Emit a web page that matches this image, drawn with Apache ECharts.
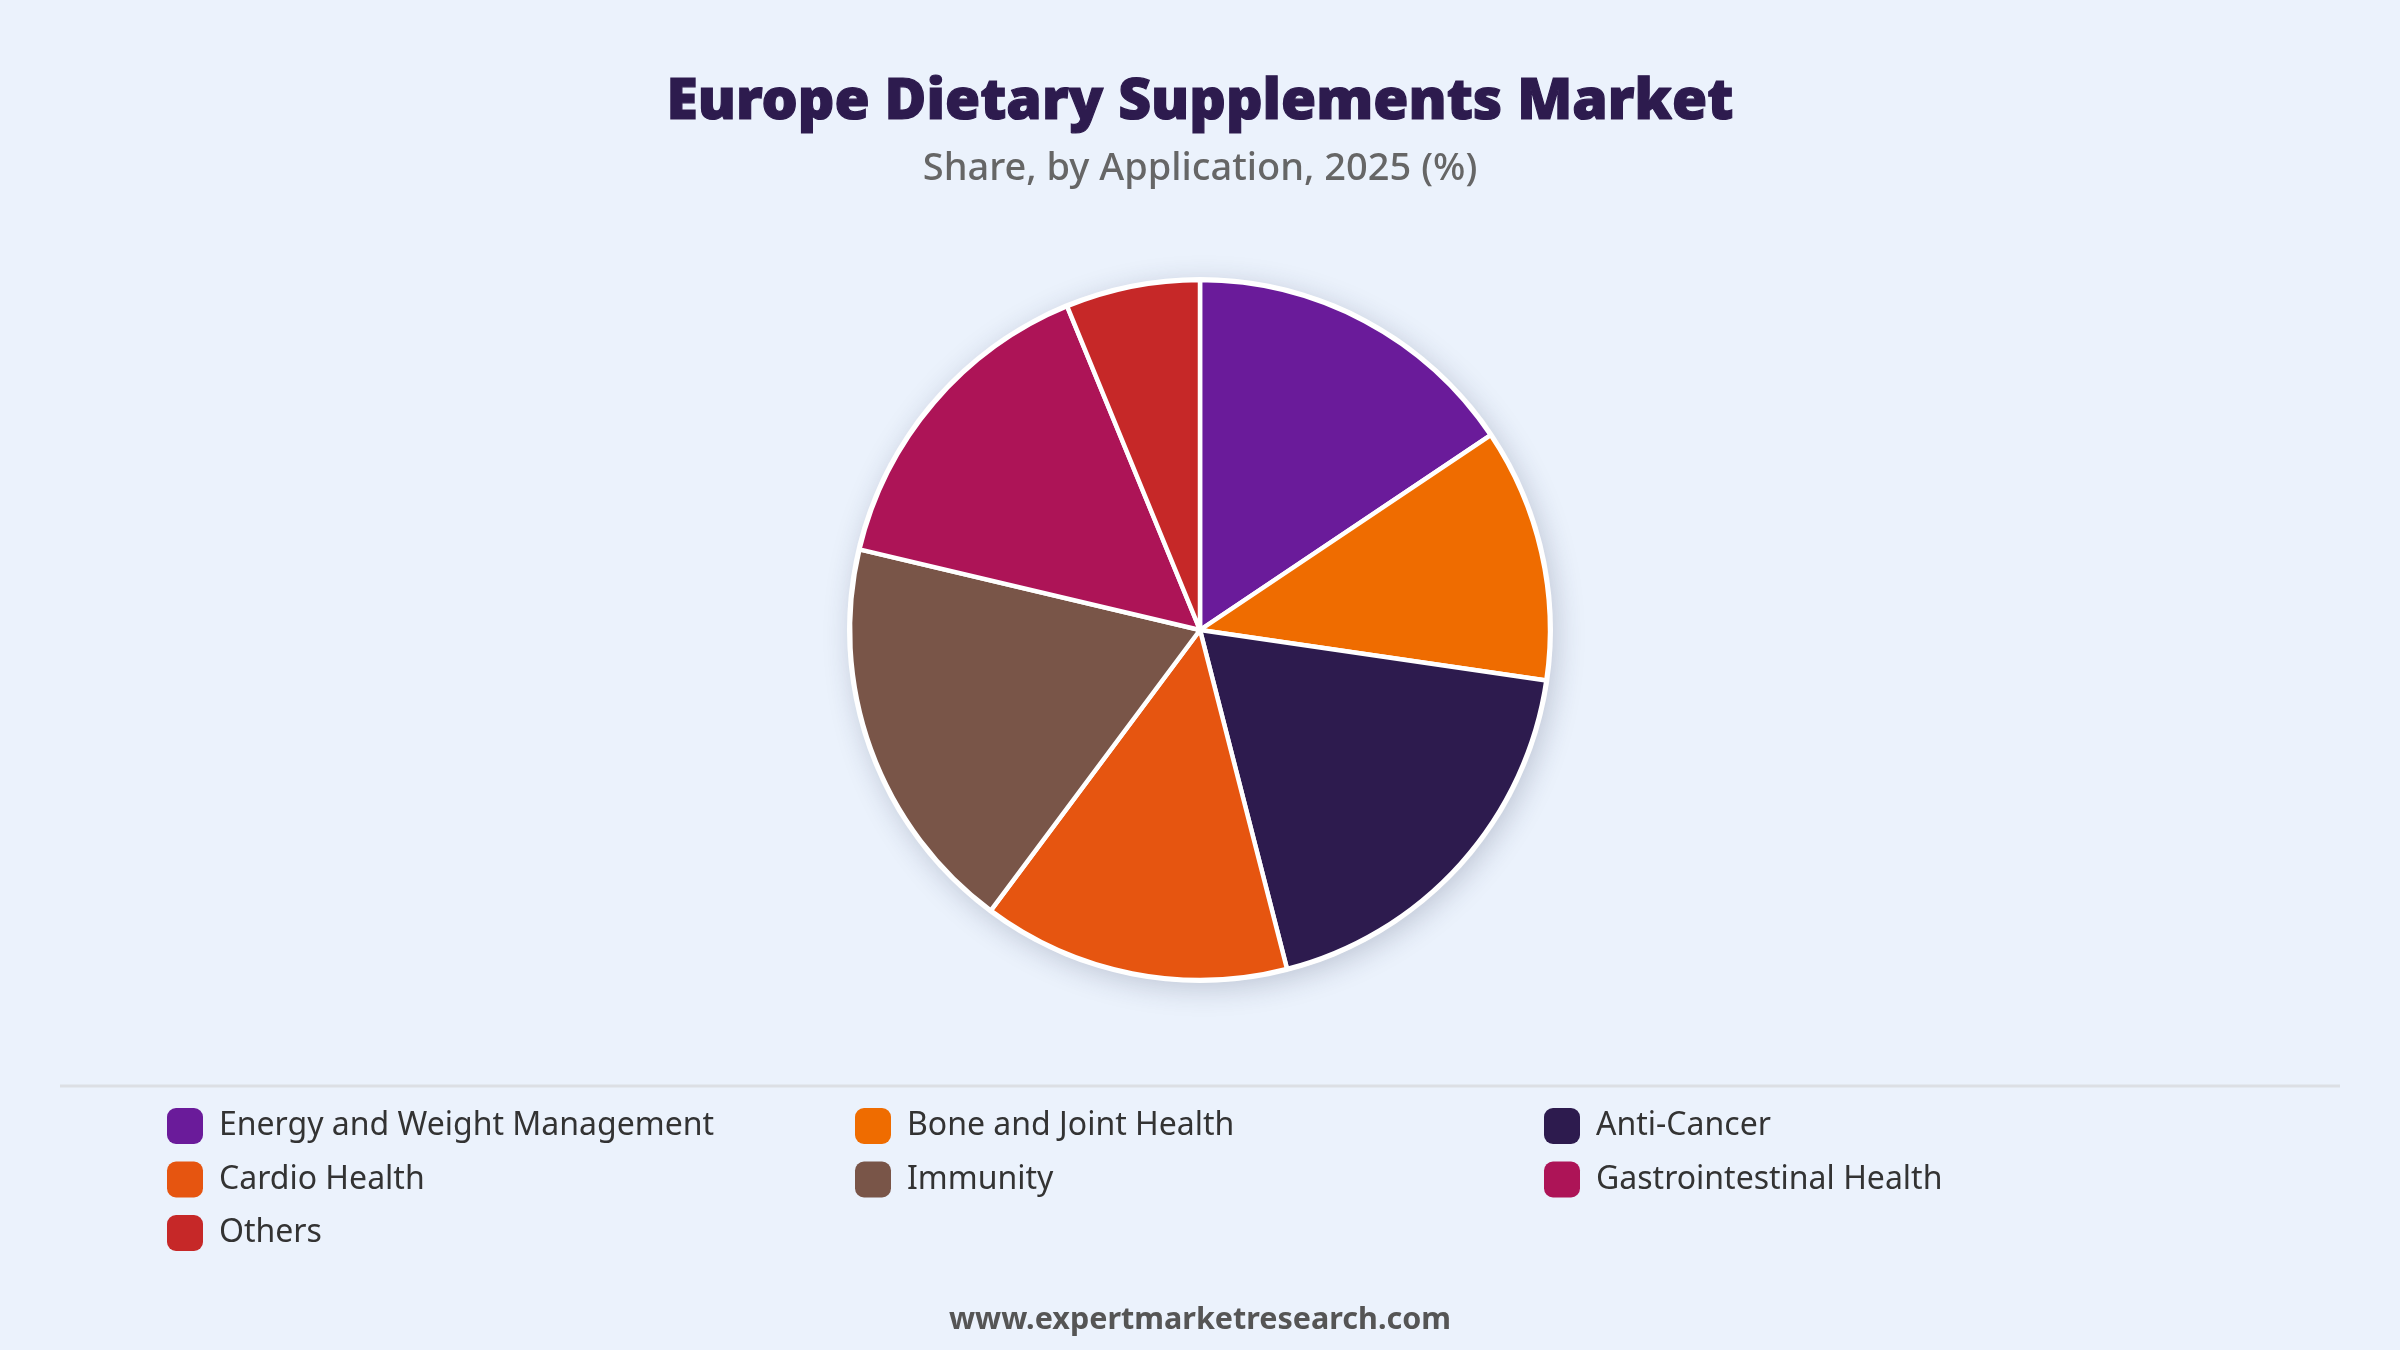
<!DOCTYPE html>
<html>
<head>
<meta charset="utf-8">
<script src="https://cdn.jsdelivr.net/npm/echarts@6/dist/echarts.min.js"></script>
<style>
  html, body { margin: 0; padding: 0; background: #EBF2FC; }
  #chart { width: 2400px; height: 1350px; }
</style>
</head>
<body>
<div id="chart"></div>
<script>
const categories = ['Energy and Weight Management', 'Bone and Joint Health', 'Anti-Cancer', 'Cardio Health', 'Immunity', 'Gastrointestinal Health', 'Others'];
const shares = [15.6, 11.7, 18.7, 14.2, 18.5, 15.1, 6.2];
const colors = ['#6A1B9A', '#EF6C00', '#2D1B4E', '#E65510', '#795548', '#AD1457', '#C62828'];
const legendCol1 = ['Energy and Weight Management', 'Cardio Health', 'Others'];
const legendCol2 = ['Bone and Joint Health', 'Immunity'];
const legendCol3 = ['Anti-Cancer', 'Gastrointestinal Health'];
const titleText = 'Europe Dietary Supplements Market';
const subtitleText = 'Share, by Application, 2025 (%)';
const footerText = 'www.expertmarketresearch.com';

const FONT = '"Noto Sans", "Open Sans", sans-serif';
const chart = echarts.init(document.getElementById('chart'), null, { renderer: 'canvas' });

function legendFor(list, left) {
  return {
    orient: 'vertical',
    left: left,
    top: 1108,
    padding: 0,
    itemWidth: 36,
    itemHeight: 36,
    itemGap: 17.5,
    icon: 'roundRect',
    selectedMode: false,
    itemStyle: { borderWidth: 0 },
    data: list,
    textStyle: { fontFamily: FONT, fontSize: 32, color: '#333333', padding: [0, 0, 0, 11] }
  };
}

const option = {
  backgroundColor: '#EBF2FC',
  animation: false,
  color: colors,
  legend: [legendFor(legendCol1, 167), legendFor(legendCol2, 855), legendFor(legendCol3, 1544)],
  graphic: [
    { type: 'text', x: 1200, y: 103, style: { text: titleText, textAlign: 'center', textVerticalAlign: 'middle', font: '900 57px ' + FONT, fill: '#2D1B4E', stroke: '#2D1B4E', lineWidth: 1.2 } },
    { type: 'text', x: 1200, y: 169, style: { text: subtitleText, textAlign: 'center', textVerticalAlign: 'middle', font: '500 38px ' + FONT, fill: '#666666' } },
    { type: 'line', shape: { x1: 60, y1: 1086, x2: 2340, y2: 1086 }, style: { stroke: '#DCDFE4', lineWidth: 3 } },
    { type: 'text', x: 1200, y: 1320, style: { text: footerText, textAlign: 'center', textVerticalAlign: 'middle', font: 'bold 30.5px ' + FONT, fill: '#555555' } }
  ],
  series: [
    {
      type: 'pie',
      silent: true,
      center: [1200, 630],
      radius: [0, 353],
      label: { show: false },
      labelLine: { show: false },
      itemStyle: { color: '#ffffff', shadowBlur: 28, shadowColor: 'rgba(40, 50, 80, 0.22)', shadowOffsetX: 4, shadowOffsetY: 6 },
      data: [{ value: 1, name: '__bg' }],
      z: 1
    },
    {
      type: 'pie',
      center: [1200, 630],
      radius: [0, 350],
      startAngle: 90,
      clockwise: true,
      label: { show: false },
      labelLine: { show: false },
      itemStyle: { borderColor: '#ffffff', borderWidth: 4.5 },
      emphasis: { disabled: true },
      data: categories.map((c, i) => ({ name: c, value: shares[i] })),
      z: 2
    }
  ]
};
chart.setOption(option);
</script>
</body>
</html>
